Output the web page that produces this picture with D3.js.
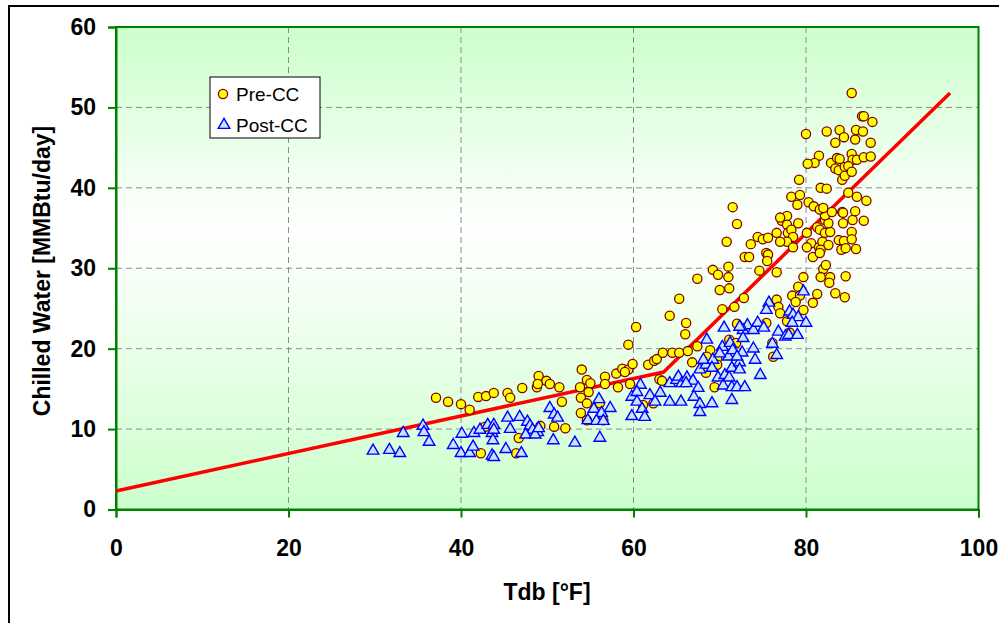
<!DOCTYPE html>
<html>
<head>
<meta charset="utf-8">
<script src="https://cdn.jsdelivr.net/npm/d3@7/dist/d3.min.js"></script>
<style>
  html, body { margin: 0; padding: 0; background: #fff; }
  svg { display: block; font-family: "Liberation Sans", Arial, sans-serif; }
</style>
</head>
<body>
<svg id="chart" width="999" height="623"></svg>
<script>
// Chilled water use vs. dry-bulb temperature, before and after continuous commissioning
const xTicks = [0, 20, 40, 60, 80, 100];
const yTicks = [0, 10, 20, 30, 40, 50, 60];

// Pre-CC daily observations
const preTdb = [37.1,38.5,40.0,41.0,42.0,42.9,43.8,45.4,45.7,47.1,48.8,49.0,49.9,48.9,50.3,51.4,51.7,53.8,54.0,54.6,
  55.0,54.8,53.9,54.6,53.9,54.6,56.7,56.7,58.2,58.0,58.7,59.4,59.9,59.6,61.7,42.8,42.3,46.4,46.7,49.2,
  50.8,52.1,56.1,61.1,60.3,59.4,59.0,62.4,62.7,63.4,64.5,65.3,66.3,66.8,67.4,66.1,66.0,64.2,65.3,67.4,
  71.5,72.0,70.8,69.2,69.8,71.0,71.0,70.0,71.1,70.3,71.7,72.8,72.0,72.9,73.4,73.6,74.4,75.0,75.6,76.6,
  77.2,77.8,77.8,77.9,78.3,78.5,77.8,77.0,78.5,75.4,75.6,75.5,74.6,76.6,79.7,79.1,80.1,80.6,80.1,80.8,
  81.5,81.9,82.6,81.7,81.3,81.6,82.2,82.8,82.2,82.6,82.2,83.0,84.2,84.3,85.4,85.7,86.7,85.3,83.8,84.4,
  85.3,84.1,84.6,85.8,82.0,82.3,81.7,82.8,82.7,84.6,83.4,84.5,81.3,80.8,79.1,78.4,79.3,78.8,79.7,76.6,
  76.8,77.0,77.8,75.4,76.1,78.1,68.9,68.5,69.7,71.1,71.9,76.2,68.4,69.4,62.3,63.0,63.3,56.5,85.3,86.5,
  86.7,87.7,80.0,82.4,83.9,84.4,83.4,85.8,86.6,85.7,87.5,81.5,81.0,80.2,82.9,83.6,83.9,85.3,85.4,85.9,
  86.7,87.5,83.4,83.8,84.5,84.9,84.2,84.5,85.3,79.2,81.7,82.4,78.3,79.3,79.0,80.3,80.9,81.6,82.0,84.3,
  84.9,85.9,87.0,77.0,81.6,69.7];
const preChw = [13.9,13.4,13.1,12.4,14.0,14.1,14.5,14.5,13.9,15.1,15.2,16.6,16.0,15.6,15.6,15.2,13.4,15.2,17.4,16.1,
  15.7,14.6,13.9,13.2,12.0,11.1,16.5,15.6,15.2,16.9,17.5,17.4,18.1,15.6,18.0,10.3,7.0,7.0,8.9,10.4,
  10.3,10.1,13.2,13.0,22.7,20.5,17.1,18.5,18.7,19.5,19.5,19.5,19.7,18.3,20.3,23.2,21.8,24.1,26.2,28.7,
  37.6,35.5,33.3,29.8,29.2,30.2,28.9,27.3,27.5,24.9,25.2,26.3,23.1,31.4,31.4,33.0,33.9,33.6,33.8,34.4,
  35.9,36.5,35.4,34.4,34.8,33.9,33.3,33.3,32.6,31.9,31.7,30.9,29.7,29.5,28.9,35.6,34.4,33.1,32.6,31.4,
  32.6,33.3,32.9,32.3,35.1,34.8,34.4,34.5,36.0,35.6,36.6,37.0,37.0,35.6,36.0,37.1,35.9,34.5,33.5,33.4,
  33.6,32.3,32.5,32.4,29.9,30.4,28.9,28.9,28.2,29.0,26.9,26.4,26.8,25.7,27.7,26.6,26.6,25.8,24.8,26.1,
  25.2,24.4,23.4,23.2,20.7,22.0,19.8,19.0,18.8,21.1,20.7,19.0,17.0,15.2,13.2,16.2,16.0,11.1,51.8,48.9,
  48.9,48.2,46.7,47.0,47.2,46.3,45.6,47.2,47.0,46.0,45.6,44.0,43.1,43.0,43.1,43.7,43.6,44.2,43.5,43.5,
  43.8,43.9,42.4,42.2,42.6,42.7,41.0,41.5,42.0,41.0,40.0,39.9,38.9,39.1,37.9,38.2,37.7,37.3,37.5,36.9,
  39.4,38.9,38.4,36.3,31.9,18.0];

// Post-CC daily observations
const postTdb = [29.8,31.7,32.9,33.3,35.6,35.7,36.3,39.1,40.1,40.0,41.0,41.4,41.5,42.2,43.1,43.8,43.6,43.8,43.7,43.6,
  43.8,45.2,45.4,45.7,46.8,47.0,47.7,48.0,48.3,47.5,48.9,48.6,49.0,50.7,50.3,50.8,51.2,53.2,54.7,55.4,
  56.0,56.1,56.3,55.7,56.5,57.3,59.8,60.8,60.4,60.4,61.0,59.8,61.3,61.9,63.1,62.5,64.2,65.5,64.2,65.0,
  65.2,65.6,66.2,66.9,66.1,67.5,67.0,67.7,67.7,69.1,67.7,68.4,68.1,69.2,69.8,70.6,70.4,71.1,71.4,71.4,
  72.0,72.3,72.3,72.9,71.4,74.7,74.1,71.0,76.6,79.7,75.7,75.4,78.1,78.5,79.1,80.0,78.4,73.2,73.9,74.4,
  75.1,72.7,76.8,77.6,78.0,79.0,72.7,76.1,73.9,72.6,70.5,72.3,68.5,70.3,71.2,71.5,72.0,70.0,69.1];
const postChw = [7.3,7.4,7.0,9.5,10.4,9.6,8.4,8.0,9.4,7.0,7.0,7.8,9.5,9.9,10.5,10.5,9.5,9.9,8.6,6.7,
  6.5,7.5,11.4,10.0,11.5,7.0,10.9,10.4,9.9,9.3,9.6,9.3,10.1,8.6,12.6,11.8,11.4,8.3,11.1,12.5,
  13.7,8.9,12.0,11.0,11.0,12.6,14.0,15.5,14.6,13.4,12.5,11.6,11.5,14.2,14.5,13.4,13.4,13.4,15.7,16.1,
  16.5,15.7,16.4,16.0,15.7,15.1,14.0,13.1,12.1,13.2,17.4,18.0,18.6,18.6,16.4,16.7,15.4,16.4,17.6,15.2,
  15.2,18.3,17.4,15.2,13.6,16.7,18.6,19.0,19.2,27.1,25.7,24.8,24.6,24.2,23.9,23.2,23.2,22.9,22.3,23.2,
  22.6,22.3,22.1,21.5,21.7,21.7,21.3,20.6,20.0,19.5,22.6,22.7,21.1,20.2,20.7,19.8,19.0,19.4,17.6];

// Piecewise-linear change-point model
const fitTdb = [0, 63.5, 96.7];
const fitChw = [2.3, 17.1, 51.8];

const legendLabels = ["Pre-CC", "Post-CC"];

const svg = d3.select("#chart");
const W = 999, H = 623;
const plot = { left: 116, right: 978.5, top: 27, bottom: 509.5 };

const x = d3.scaleLinear().domain([0, 100]).range([plot.left, plot.right]);
const y = d3.scaleLinear().domain([0, 60]).range([plot.bottom, plot.top]);

// page background and outer frame
svg.append("rect").attr("width", W).attr("height", H).attr("fill", "#fff");
svg.append("rect").attr("x", 9).attr("y", 6).attr("width", 1100).attr("height", 800)
  .attr("fill", "none").attr("stroke", "#000").attr("stroke-width", 2);

// plot area fill: green at both edges fading to white
const defs = svg.append("defs");
const grad = defs.append("linearGradient").attr("id", "bg").attr("x1", 0).attr("y1", 0).attr("x2", 0).attr("y2", 1);
grad.append("stop").attr("offset", "0%").attr("stop-color", "#ccffcc");
grad.append("stop").attr("offset", "42%").attr("stop-color", "#ffffff");
grad.append("stop").attr("offset", "100%").attr("stop-color", "#ccffcc");

svg.append("rect")
  .attr("x", plot.left).attr("y", plot.top)
  .attr("width", plot.right - plot.left).attr("height", plot.bottom - plot.top)
  .attr("fill", "url(#bg)");

// dashed grid
const grid = svg.append("g").attr("stroke", "#8c8c8c").attr("stroke-width", 1).attr("stroke-dasharray", "6,4");
grid.selectAll("line.gx").data(xTicks.filter(d => d > 0 && d < 100)).join("line")
  .attr("x1", d => x(d)).attr("x2", d => x(d)).attr("y1", plot.top).attr("y2", plot.bottom);
grid.selectAll("line.gy").data(yTicks.filter(d => d > 0 && d < 60)).join("line")
  .attr("y1", d => y(d)).attr("y2", d => y(d)).attr("x1", plot.left).attr("x2", plot.right);

// plot border
svg.append("rect")
  .attr("x", plot.left).attr("y", plot.top)
  .attr("width", plot.right - plot.left).attr("height", plot.bottom - plot.top)
  .attr("fill", "none").attr("stroke", "#008000").attr("stroke-width", 2);

// axes
const xAxis = svg.append("g").attr("transform", `translate(0,${plot.bottom})`)
  .call(d3.axisBottom(x).tickValues(xTicks).tickSize(8).tickPadding(22).tickFormat(d3.format("d")));
const yAxis = svg.append("g").attr("transform", `translate(${plot.left},0)`)
  .call(d3.axisLeft(y).tickValues(yTicks).tickSize(8).tickPadding(12).tickFormat(d3.format("d")));
[xAxis, yAxis].forEach(g => {
  g.select(".domain").attr("stroke", "#008000").attr("stroke-width", 2);
  g.selectAll(".tick line").attr("stroke", "#008000").attr("stroke-width", 2);
  g.selectAll(".tick text").attr("fill", "#000").style("font-size", "23px").style("font-weight", "bold")
    .style("font-family", "'Liberation Sans', Arial, sans-serif");
});

// axis titles
svg.append("text").attr("x", 547).attr("y", 600).attr("text-anchor", "middle")
  .style("font-size", "23px").style("font-weight", "bold").text("Tdb [°F]");
svg.append("text").attr("transform", "translate(50,271) rotate(-90)").attr("text-anchor", "middle")
  .style("font-size", "23px").style("font-weight", "bold").text("Chilled Water [MMBtu/day]");

// model line
const line = d3.line().x(d => x(d[0])).y(d => y(d[1]));
svg.append("path").datum(d3.zip(fitTdb, fitChw)).attr("d", line)
  .attr("fill", "none").attr("stroke", "#ff0000").attr("stroke-width", 3.5).attr("stroke-linejoin", "round");

// markers
const triangle = d3.symbol().type(d3.symbolTriangle).size(58);

svg.append("g").selectAll("circle").data(d3.zip(preTdb, preChw)).join("circle")
  .attr("cx", d => x(d[0])).attr("cy", d => y(d[1])).attr("r", 4.6)
  .attr("fill", "#ffff00").attr("stroke", "#800000").attr("stroke-width", 1.3);

svg.append("g").selectAll("path").data(d3.zip(postTdb, postChw)).join("path")
  .attr("transform", d => `translate(${x(d[0])},${y(d[1])})`).attr("d", triangle)
  .attr("fill", "#c4e4ff").attr("stroke", "#0000ff").attr("stroke-width", 1.4);

// legend
const lg = svg.append("g");
lg.append("rect").attr("x", 210).attr("y", 77).attr("width", 110).attr("height", 61)
  .attr("fill", "#fff").attr("stroke", "#000").attr("stroke-width", 1);
lg.append("circle").attr("cx", 223).attr("cy", 94).attr("r", 4.6)
  .attr("fill", "#ffff00").attr("stroke", "#800000").attr("stroke-width", 1.3);
lg.append("path").attr("transform", "translate(224,125)").attr("d", triangle)
  .attr("fill", "#c4e4ff").attr("stroke", "#0000ff").attr("stroke-width", 1.4);
lg.selectAll("text").data(legendLabels).join("text")
  .attr("x", 236).attr("y", (d, i) => 101 + i * 31)
  .style("font-size", "19px").text(d => d);
</script>
</body>
</html>
